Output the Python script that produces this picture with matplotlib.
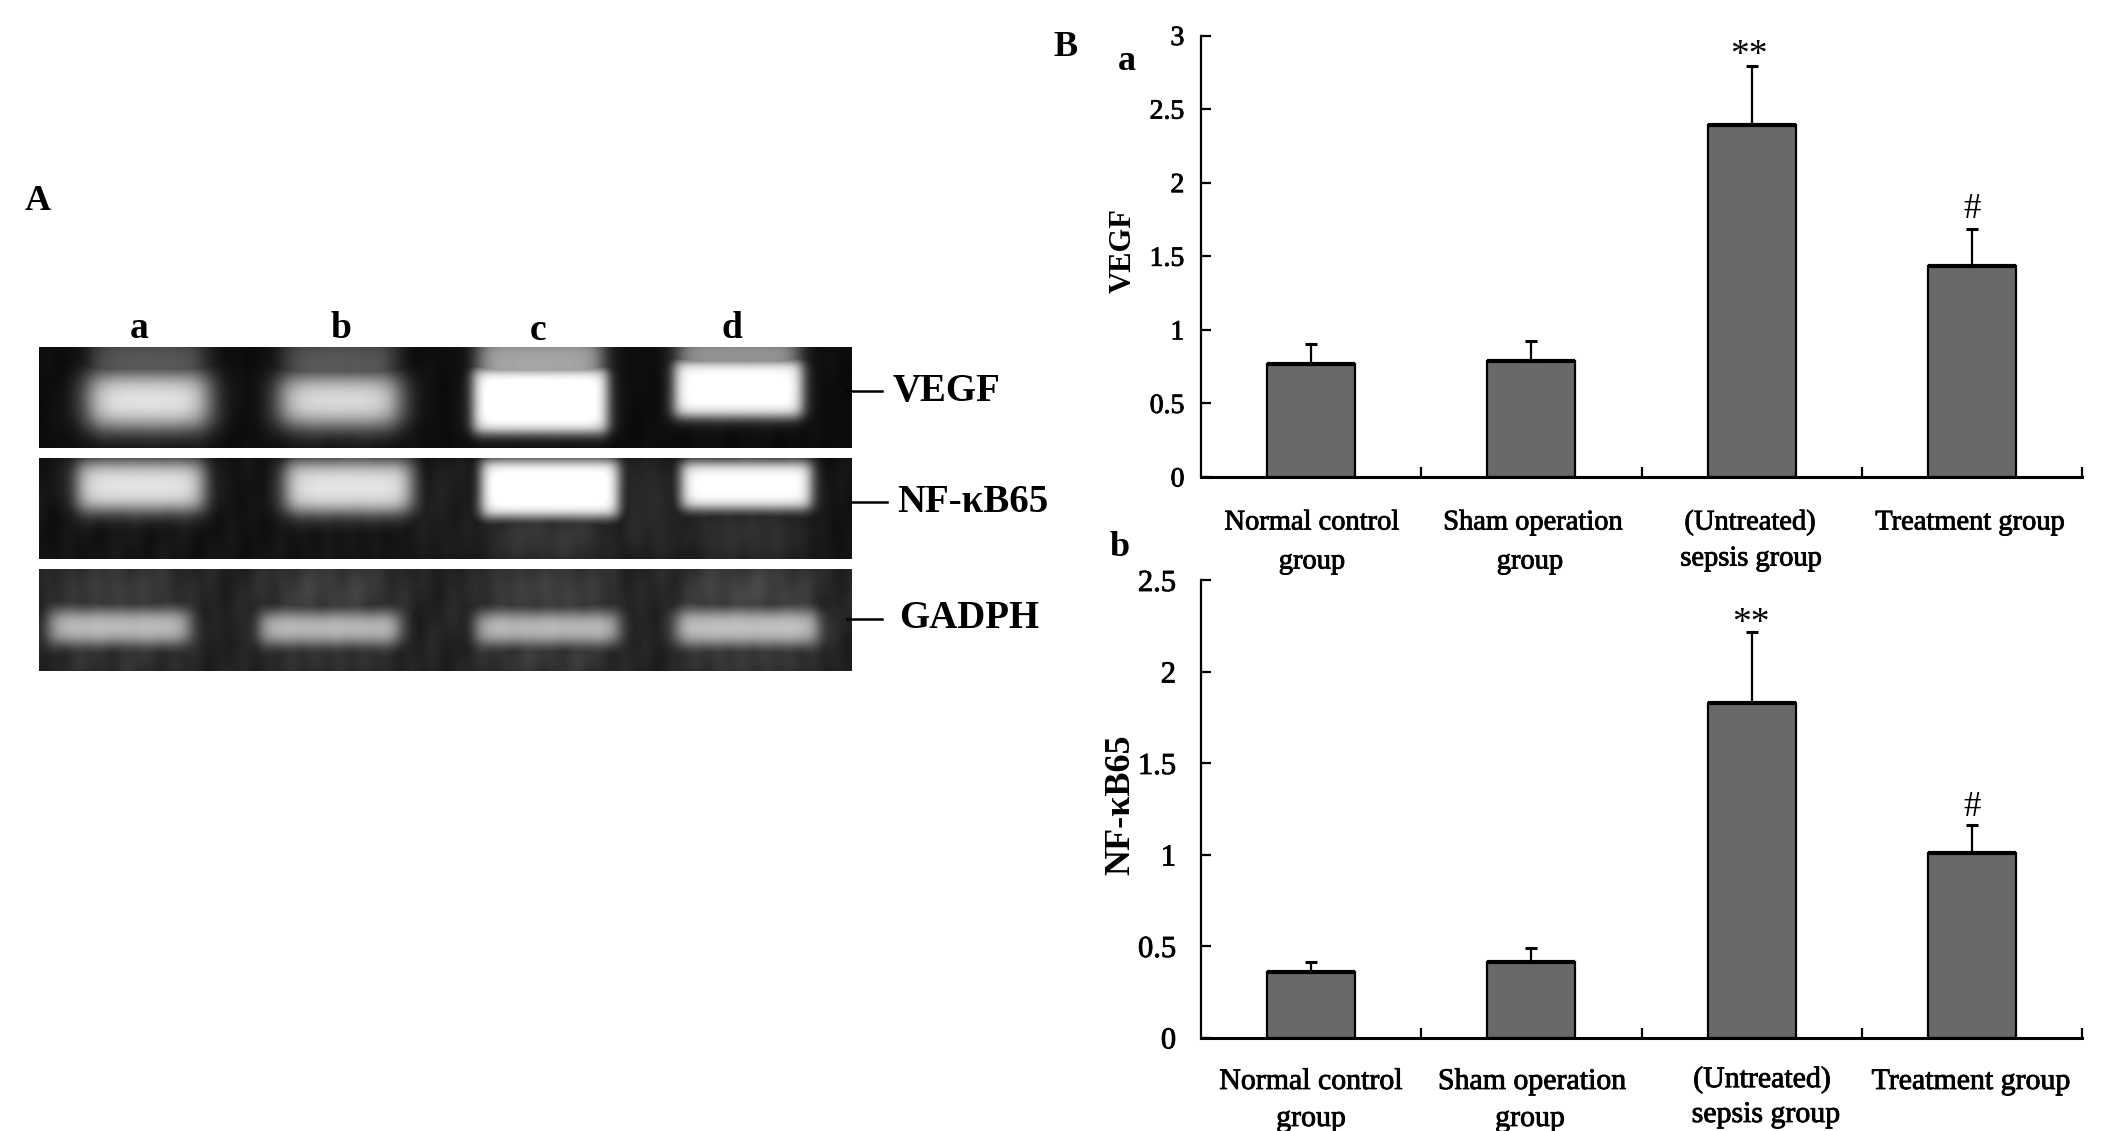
'''
Gel panels (A) and bar charts of VEGF and NF-kB65 (B).
'''

import numpy as np
import matplotlib
matplotlib.use('Agg')
import matplotlib.pyplot as plt
import matplotlib.patheffects as pe

plt.rcParams['font.family'] = ['Liberation Serif', 'DejaVu Serif']

W, H = 2122, 1131

#Bar values
vegf_means = [0.765, 0.788, 2.39, 1.437]
vegf_errs = [0.139, 0.135, 0.40, 0.247]
nfkb_means = [0.356, 0.415, 1.83, 1.01]
nfkb_errs = [0.059, 0.075, 0.385, 0.15]

vegf_ticks = [0, 0.5, 1, 1.5, 2, 2.5, 3]
vegf_ticklabels = ['0', '0.5', '1', '1.5', '2', '2.5', '3']
nfkb_ticks = [0, 0.5, 1, 1.5, 2, 2.5]
nfkb_ticklabels = ['0', '0.5', '1', '1.5', '2', '2.5']

group_labels = ['Normal control\ngroup', 'Sham operation\ngroup', '(Untreated)\nsepsis group', 'Treatment group']

#Gel bands, one list per row: left, right, top, bottom, brightness, edge softness (pixels)
vegf_bands = [
    (88, 208, 374, 426, 0.95, 8), (280, 399, 376, 424, 0.93, 8),
    (473, 607, 368, 432, 1.04, 4), (674, 802, 360, 416, 1.02, 4)]
vegf_smears = [
    (92, 204, 338, 392, 0.36, 7), (284, 395, 338, 392, 0.36, 7),
    (478, 602, 336, 392, 0.66, 6), (678, 798, 336, 375, 0.62, 6)]
nfkb_bands = [
    (77, 203, 462, 509, 0.92, 6), (285, 411, 462, 511, 0.92, 6),
    (481, 618, 460, 516, 1.04, 4), (681, 811, 462, 508, 1.02, 4)]
nfkb_smears = [
    (84, 196, 508, 559, 0.09, 12), (292, 404, 508, 559, 0.09, 12),
    (486, 610, 512, 559, 0.26, 12), (686, 804, 508, 559, 0.22, 12),
    (410, 480, 458, 559, 0.12, 8), (620, 680, 458, 559, 0.17, 8)]
gadph_bands = [
    (50, 189, 611, 642, 0.78, 5), (260, 399, 613, 642, 0.78, 5),
    (476, 618, 613, 642, 0.78, 5), (676, 818, 611, 643, 0.80, 5)]
gadph_smears = [
    (60, 180, 570, 615, 0.28, 14), (270, 390, 570, 615, 0.30, 14),
    (485, 610, 570, 615, 0.30, 14), (685, 810, 570, 615, 0.33, 14),
    (60, 180, 640, 671, 0.22, 10), (270, 390, 640, 671, 0.22, 10),
    (485, 610, 640, 671, 0.26, 10), (685, 810, 640, 671, 0.26, 10)]


def edge(t, soft):
    return 1 / (1 + np.exp(-t / soft))


def gel_row(top, bottom, bands, smears, background, grain):
    xs = np.arange(39, 852)
    ys = np.arange(top, bottom)
    xx, yy = np.meshgrid(xs, ys)
    img = np.full(xx.shape, background, dtype=float)
    for left, right, y0, y1, level, soft in smears + bands:
        blob = edge(xx - left, soft) * edge(right - xx, soft) * edge(yy - y0, soft) * edge(y1 - yy, soft)
        img = np.maximum(img, background + (level - background) * blob)
    #Faint streaks so the background does not look flat
    streaks = np.sin(xx / 5.3 + yy / 31) * np.sin(xx / 13.1 - yy / 17) + 0.5 * np.sin(xx / 7.9 + yy / 23)
    return np.clip(img + grain * streaks * (1 - img), 0, 1)


def px_axes(left, top, right, bottom):
    return fig.add_axes([left / W, 1 - bottom / H, (right - left) / W, (bottom - top) / H])


def bar_panel(ax, means, errs, ticks, ticklabels, ymax, size, pad):
    x = np.arange(4)
    ax.bar(x, means, width=0.4, color='#696969', edgecolor='black', linewidth=1.6)
    ax.hlines(means, x - 0.2, x + 0.2, color='black', lw=3)
    ax.errorbar(x, means, yerr=[np.zeros(4), errs], fmt='none', ecolor='black', elinewidth=1.6, capsize=4.5, capthick=2.2)
    ax.set_xlim(-0.5, 3.5)
    ax.set_ylim(0, ymax)
    ax.set_xticks([0.5, 1.5, 2.5, 3.5])
    ax.set_xticklabels([])
    ax.set_yticks(ticks)
    ax.set_yticklabels(ticklabels, fontsize=size, path_effects=thick)
    ax.tick_params(axis='both', direction='in', length=7, width=1.6)
    ax.tick_params(axis='y', pad=pad)
    ax.spines['top'].set_visible(False)
    ax.spines['right'].set_visible(False)
    ax.spines['left'].set_linewidth(1.6)
    ax.spines['bottom'].set_linewidth(2.2)
    ax.patch.set_alpha(0)


thick = [pe.withStroke(linewidth=0.6, foreground='black')]

fig = plt.figure(figsize=(W / 100, H / 100), dpi=100)

#Overlay in pixel coordinates for the gel and free text
over = fig.add_axes([0, 0, 1, 1])

rows = [
    (347, 448, vegf_bands, vegf_smears, 0.05, 0.008),
    (458, 559, nfkb_bands, nfkb_smears, 0.07, 0.015),
    (569, 671, gadph_bands, gadph_smears, 0.13, 0.025)]
for top, bottom, bands, smears, background, grain in rows:
    over.imshow(gel_row(top, bottom, bands, smears, background, grain), cmap='gray', vmin=0, vmax=1,
                extent=(39, 852, bottom, top), aspect='auto', interpolation='bilinear')
over.set_xlim(0, W)
over.set_ylim(H, 0)
over.axis('off')

#Band name dashes and labels
for x0, x1, y in [(847, 882, 391), (852, 887, 502), (847, 882, 619)]:
    over.plot([x0, x1], [y, y], color='black', lw=1.8)
for x, y, s, size in [(893, 392, 'VEGF', 28), (897, 503, 'NF-κB65', 28), (899, 619, 'GADPH', 28)]:
    over.text(x, y, s, fontsize=size, fontweight='bold', ha='left', va='center')
for x, y, s in [(139, 328, 'a'), (341, 329, 'b'), (538, 331, 'c'), (732, 328, 'd')]:
    over.text(x, y, s, fontsize=27, fontweight='bold', ha='center', va='center')

#Panel letters
for x, y, s in [(38, 202, 'A'), (1066, 48, 'B'), (1127, 61, 'a'), (1120, 547, 'b')]:
    over.text(x, y, s, fontsize=26, fontweight='bold', ha='center', va='center')

#Bar panels
ax_a = px_axes(1201, 35.5, 2082, 477)
bar_panel(ax_a, vegf_means, vegf_errs, vegf_ticks, vegf_ticklabels, 3, 20, 12)
ax_b = px_axes(1201, 580, 2082, 1037.5)
bar_panel(ax_b, nfkb_means, nfkb_errs, nfkb_ticks, nfkb_ticklabels, 2.5, 22, 18)

over.text(1123, 251, 'VEGF', fontsize=22, fontweight='bold', rotation=90, ha='center', va='center')
over.text(1121, 805, 'NF-κB65', fontsize=26, fontweight='bold', rotation=90, ha='center', va='center')

#Group labels, placed by hand because the two lines do not line up in the original
a_label_pos = [(1312, 1312, 523, 562), (1533, 1530, 523, 562), (1750, 1751, 523, 559), (1970, None, 523, None)]
b_label_pos = [(1311, 1311, 1082, 1119), (1532, 1530, 1082, 1119), (1762, 1766, 1080, 1115), (1971, None, 1082, None)]
for pos, size in [(a_label_pos, 20.5), (b_label_pos, 21.5)]:
    for label, (x1, x2, y1, y2) in zip(group_labels, pos):
        lines = label.split('\n')
        over.text(x1, y1, lines[0], fontsize=size, ha='center', va='center', path_effects=thick)
        if len(lines) > 1:
            over.text(x2, y2, lines[1], fontsize=size, ha='center', va='center', path_effects=thick)

#Significance marks
for x, y, s, size in [(1749, 56, '**', 27), (1972, 210, '#', 25), (1751, 624, '**', 27), (1972, 808, '#', 25)]:
    over.text(x, y, s, fontsize=size, ha='center', va='center')

plt.savefig('out.png', dpi=100)
plt.close()
